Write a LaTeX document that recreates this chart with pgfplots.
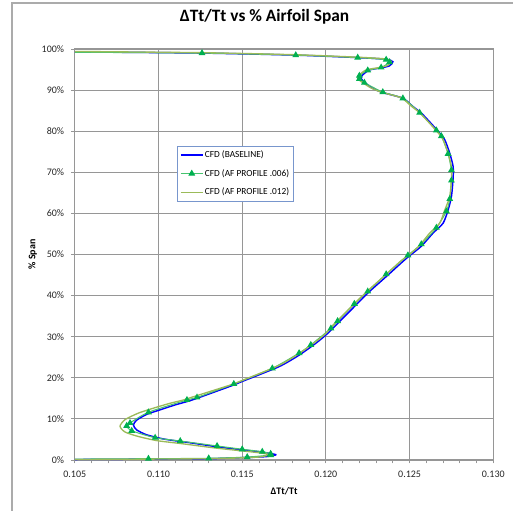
\documentclass[border=0pt]{standalone}
\usepackage{pgfplots}
\pgfplotsset{compat=1.18}
\usepackage{fontspec}
\setmainfont{Carlito}
\definecolor{cblue}{RGB}{0,0,255}
\definecolor{cgreen}{RGB}{0,176,80}
\definecolor{cgreenl}{RGB}{70,195,110}
\definecolor{colive}{RGB}{155,187,89}
\definecolor{gridc}{RGB}{150,150,150}
\definecolor{legb}{RGB}{120,150,205}
\begin{document}
\begin{tikzpicture}
\begin{axis}[
  scale only axis,
  width=313.9pt, height=308.25pt,
  xmin=0.105, xmax=0.130, ymin=0, ymax=100,
  xtick={0.105,0.110,0.115,0.120,0.125,0.130},
  xticklabels={0.105,0.110,0.115,0.120,0.125,0.130},
  ytick={0,10,20,30,40,50,60,70,80,90,100},
  yticklabels={0\%,10\%,20\%,30\%,40\%,50\%,60\%,70\%,80\%,90\%,100\%},
  minor x tick num=4,
  grid=major,
  major grid style={draw=gridc, line width=0.8pt},
  axis line style={draw=gridc, line width=1pt},
  tick style={draw=gridc, line width=0.6pt},
  tick align=outside,
  major tick length=2.5pt, minor tick length=2.5pt,
  xtick pos=bottom, ytick pos=left,
  ticklabel style={font=\fontsize{7.5}{9}\selectfont, text=black!85},
  /pgf/number format/assume math mode=true,
  xticklabel style={yshift=-2.5pt},
  yticklabel style={xshift=-2pt},
  xlabel={ΔTt/Tt},
  ylabel={\% Span},
  xlabel style={font=\bfseries\fontsize{7.5}{9}\selectfont, at={(axis description cs:0.5,-0.0771)}, anchor=center},
  ylabel style={font=\bfseries\fontsize{7.5}{9}\selectfont, at={(axis description cs:-0.1004,0.5)}, anchor=center},
  title={ΔTt/Tt vs \% Airfoil Span},
  title style={font=\bfseries\fontsize{13}{15}\selectfont, at={(axis description cs:0.4533,1.0584)}, anchor=center},
  legend style={at={(0.2435,0.7647)}, anchor=north west, draw=legb, line width=0.6pt,
    font=\fontsize{7}{8.5}\selectfont, row sep=5.2pt, inner sep=2.2pt,
    nodes={inner sep=1pt, text height=5.3pt, text depth=1.5pt}},
  legend cell align=left,
  legend image code/.code={\draw[#1] (0pt,0pt) -- (16.5pt,0pt); \path[#1, only marks, mark indices={1}] plot coordinates {(8.25pt,0pt)};},
  clip=false,
]
\addplot[cblue, line width=1.1pt, smooth, tension=0.4] coordinates {
(0.1050,99.3) (0.1126,99.0) (0.1182,98.5) (0.1219,97.9) (0.1236,97.5) (0.1240,96.9)
(0.1238,95.9) (0.1233,95.4) (0.1226,94.9) (0.1222,93.7) (0.1221,92.9) (0.1223,91.9)
(0.1228,90.4) (0.1234,89.4) (0.1246,88.0) (0.1252,86.0) (0.1257,84.4) (0.1261,82.7)
(0.1267,80.0) (0.1271,77.9) (0.1274,74.6) (0.1276,71.4) (0.1276,68.6) (0.1275,64.1)
(0.1273,60.8) (0.1270,57.6) (0.1264,55.2) (0.1257,52.0) (0.1250,49.7) (0.1246,48.3)
(0.1236,44.6) (0.1225,40.6) (0.1216,36.9) (0.1205,32.4) (0.1200,30.4) (0.1194,28.4)
(0.1184,25.5) (0.1172,22.7) (0.1150,19.1) (0.1144,18.1) (0.1123,15.0) (0.1117,14.2)
(0.1110,13.4) (0.1101,12.2) (0.1093,11.1) (0.1087,9.7) (0.1085,8.5) (0.1087,7.3)
(0.1093,6.1) (0.1103,5.1) (0.1113,4.5) (0.1117,4.3) (0.1135,3.2) (0.1151,2.4)
(0.1162,1.9) (0.1169,1.4) (0.1170,1.2) (0.1164,0.8) (0.1153,0.6) (0.1130,0.3)
(0.1094,0.2) (0.1050,0.1)
};
\addlegendentry{CFD (BASELINE)}
\addplot[cgreenl, line width=0.8pt, smooth, tension=0.4, mark=triangle*, mark size=2.2pt,
  mark indices={2,...,49},
  mark options={fill=cgreen, draw=cgreen, solid}] coordinates {
(0.1050,99.2) (0.1126,99.0) (0.1182,98.5) (0.1219,97.9) (0.1236,97.4) (0.1238,96.8)
(0.1233,95.5) (0.1225,94.8) (0.1220,93.5) (0.1220,92.7) (0.1223,91.8) (0.1234,89.5)
(0.1246,88.0) (0.1256,84.5) (0.1266,80.2) (0.1269,78.8) (0.1273,74.5) (0.1275,70.5)
(0.1275,68.0) (0.1274,63.5) (0.1272,60.5) (0.1266,56.5) (0.1257,52.5) (0.1249,49.8)
(0.1236,45.2) (0.1225,41.0) (0.1217,38.0) (0.1207,33.8) (0.1203,32.0) (0.1191,28.0)
(0.1184,26.0) (0.1168,22.3) (0.1145,18.5) (0.1123,15.2) (0.1117,14.6) (0.1094,11.6)
(0.1083,9.0) (0.1081,8.3) (0.1084,7.1) (0.1098,5.4) (0.1113,4.6) (0.1135,3.4)
(0.1150,2.6) (0.1162,2.0) (0.1167,1.5) (0.1167,1.2) (0.1153,0.7) (0.1130,0.4)
(0.1094,0.3) (0.1050,0.2)
};
\addlegendentry{CFD (AF PROFILE .006)}
\addplot[colive, line width=1pt, smooth, tension=0.4] coordinates {
(0.1050,99.4) (0.1126,99.1) (0.1182,98.6) (0.1219,98.0) (0.1235,97.6) (0.1239,97.0)
(0.1237,96.0) (0.1232,95.5) (0.1224,94.9) (0.1220,93.7) (0.1219,92.8) (0.1222,91.8)
(0.1227,90.5) (0.1233,89.5) (0.1245,88.1) (0.1251,86.1) (0.1256,84.5) (0.1260,82.8)
(0.1266,80.1) (0.1270,78.0) (0.1273,74.6) (0.1275,71.4) (0.1275,68.6) (0.1274,64.1)
(0.1271,60.8) (0.1268,57.6) (0.1262,55.2) (0.1256,52.2) (0.1250,50.0) (0.1245,48.5)
(0.1235,44.8) (0.1224,40.8) (0.1215,37.2) (0.1204,32.7) (0.1200,30.8) (0.1194,28.8)
(0.1184,25.9) (0.1172,23.0) (0.1151,19.5) (0.1145,18.5) (0.1121,15.4) (0.1115,14.6)
(0.1107,13.8) (0.1097,12.6) (0.1088,11.4) (0.1080,9.8) (0.1077,8.2) (0.1080,6.8)
(0.1088,5.7) (0.1099,4.7) (0.1111,4.1) (0.1115,3.9) (0.1134,2.9) (0.1150,2.2)
(0.1161,1.7) (0.1166,1.3) (0.1164,1.0) (0.1160,0.7) (0.1150,0.5) (0.1128,0.3)
(0.1094,0.2) (0.1050,0.1)
};
\addlegendentry{CFD (AF PROFILE .012)}
\draw[gridc!80, line width=0.8pt] (rel axis cs:-0.15006,-0.2) -- (rel axis cs:-0.15006,1.1119) -- (rel axis cs:1.1,1.1119);
\coordinate (bbsw) at (rel axis cs:-0.17873,-0.1241);
\coordinate (bbne) at (rel axis cs:1.0471,1.1192);
\end{axis}
\pgfresetboundingbox
\path[use as bounding box] (bbsw) rectangle (bbne);
\end{tikzpicture}
\end{document}
